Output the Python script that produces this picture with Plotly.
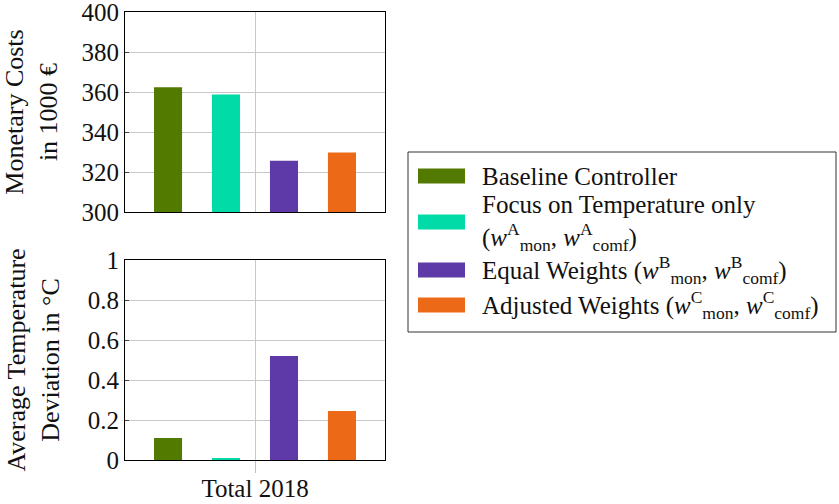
import plotly.graph_objects as go

# Data
category = ["Total 2018"]
series_names = [
    "Baseline Controller",
    "Focus on Temperature only<br>(<i>w</i><sup>A</sup><sub>mon</sub>, <i>w</i><sup>A</sup><sub>comf</sub>)",
    "Equal Weights (<i>w</i><sup>B</sup><sub>mon</sub>, <i>w</i><sup>B</sup><sub>comf</sub>)",
    "Adjusted Weights (<i>w</i><sup>C</sup><sub>mon</sub>, <i>w</i><sup>C</sup><sub>comf</sub>)",
]
colors = ["#527a00", "#00dba8", "#5e3aa8", "#ec6a17"]
monetary_costs = [362.4, 358.8, 325.6, 329.7]      # in 1000 EUR
temp_deviation = [0.11, 0.006, 0.52, 0.245]         # in degC

cost_ticks = [300, 320, 340, 360, 380, 400]
dev_ticks = [0, 0.2, 0.4, 0.6, 0.8, 1]
dev_ticklabels = ["0", "0.2", "0.4", "0.6", "0.8", "1"]

FONT = "Liberation Serif"
TEXT = "#111"
W, H = 839, 504

fig = go.Figure()
for name, color, cost, dev in zip(series_names, colors, monetary_costs, temp_deviation):
    fig.add_trace(go.Bar(x=category, y=[cost], name=name, marker_color=color,
                         marker_line_width=0, xaxis="x", yaxis="y", showlegend=False))
    fig.add_trace(go.Bar(x=category, y=[dev], name=name, marker_color=color,
                         marker_line_width=0, xaxis="x2", yaxis="y2", showlegend=False))

def px_x(p):
    return p / W

def px_y(p):
    return 1 - p / H

axis_common = dict(showline=True, linecolor="#000", linewidth=1, mirror=True, automargin=False,
                   showgrid=True, gridcolor="#c8c8c8", gridwidth=1, zeroline=False,
                   ticklabeloverflow="allow",
                   tickfont=dict(family=FONT, size=25, color=TEXT))
title_font = dict(family=FONT, size=26, color=TEXT)

fig.update_layout(
    template="none",
    width=W, height=H, margin=dict(l=0, r=0, t=0, b=0),
    paper_bgcolor="white", plot_bgcolor="white",
    font=dict(family=FONT, size=24, color=TEXT),
    barmode="group", bargap=0.108, bargroupgap=0.516,
    xaxis=dict(domain=[px_x(125), px_x(385)], anchor="y", range=[-0.5, 0.5],
               showticklabels=False, ticks="", **axis_common),
    yaxis=dict(domain=[px_y(212), px_y(12)], anchor="x", range=[300, 400],
               tickvals=cost_ticks, ticks="inside", ticklen=4, tickcolor="#444",
               title=dict(text="Monetary Costs<br>in 1000 €", standoff=20, font=title_font),
               **axis_common),
    xaxis2=dict(domain=[px_x(125), px_x(385)], anchor="y2", range=[-0.5, 0.5],
                ticks="outside", ticklen=12, tickcolor="#c0c0c0", tickwidth=1,
                ticklabelstandoff=-6, **axis_common),
    yaxis2=dict(domain=[px_y(460), px_y(260)], anchor="x2", range=[0, 1],
                tickvals=dev_ticks, ticktext=dev_ticklabels, ticks="inside", ticklen=4, tickcolor="#444",
                title=dict(text="Average Temperature<br>Deviation in °C", standoff=20, font=title_font),
                **axis_common),
)

# Legend box drawn with shapes and annotations
shapes = [dict(type="rect", xref="paper", yref="paper",
               x0=px_x(408), x1=px_x(836), y0=px_y(332), y1=px_y(152),
               line=dict(color="#333", width=1), fillcolor="white", layer="above")]
sw_centers = [176, 222, 270, 305]
text_centers = [176, 223, 270, 305]
annotations = []
for color, name, yc, yt in zip(colors, series_names, sw_centers, text_centers):
    shapes.append(dict(type="rect", xref="paper", yref="paper",
                       x0=px_x(418), x1=px_x(465), y0=px_y(yc + 7.5), y1=px_y(yc - 7.5),
                       line=dict(width=0), fillcolor=color, layer="above"))
    annotations.append(dict(xref="paper", yref="paper", x=px_x(480), y=px_y(yt),
                            xanchor="left", yanchor="middle", text=name, showarrow=False,
                            align="left", font=dict(family=FONT, size=25, color=TEXT)))
fig.update_layout(shapes=shapes, annotations=annotations)

fig.write_html("out.html")
